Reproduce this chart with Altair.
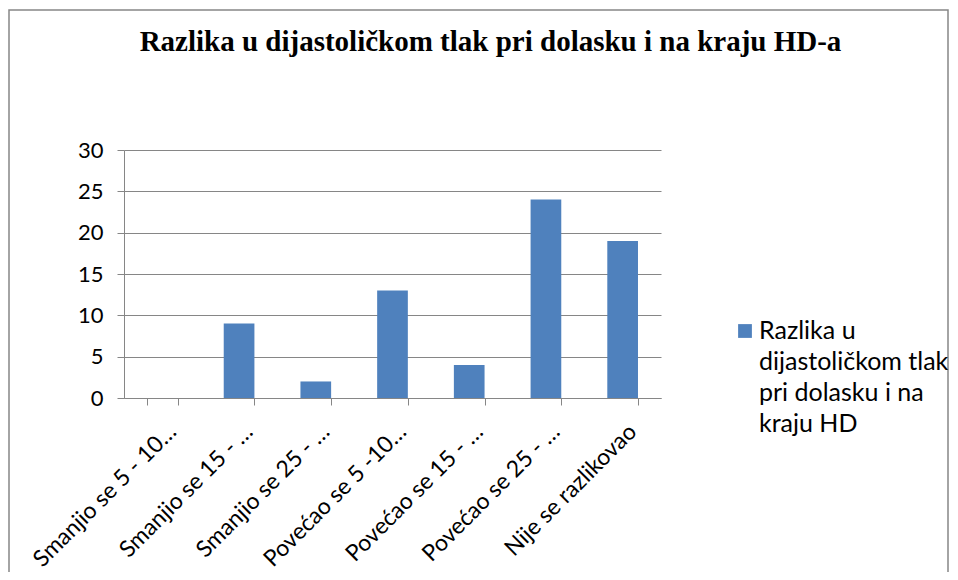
import altair as alt
import pandas as pd

categories = [
    "Smanjio se 5 - 10…",
    "Smanjio se 15 - …",
    "Smanjio se 25 - …",
    "Povećao se 5 -10…",
    "Povećao se 15 - …",
    "Povećao se 25 - …",
    "Nije se razlikovao",
]
values = [0, 9, 2, 13, 4, 24, 19]
series_name = "Razlika u\ndijastoličkom tlak\npri dolasku i na\nkraju HD"
title_text = "Razlika u dijastoličkom tlak pri dolasku i na kraju HD-a"

df = pd.DataFrame({"cat": categories, "val": values})
legend_df = pd.DataFrame({"series": [series_name]})

W, H = 537, 248
PL, PT, PR, PB = 116, 142, 826 - 537, 174
FONT = "Lato"
GRAY = "#868686"
BLUE = "#4F81BD"

bars = alt.Chart(df).mark_bar(color=BLUE).encode(
    x=alt.X("cat:N", sort=categories, title=None,
            scale=alt.Scale(paddingInner=0.6, paddingOuter=0.3),
            axis=alt.Axis(labelAngle=-45, labelAlign="right", labelBaseline="top",
                          labelFontSize=23, labelFont=FONT, labelColor="#000000",
                          labelLimit=400, tickBand="extent", tickSize=7,
                          tickColor=GRAY, domainColor=GRAY, labelPadding=15,
                          labelOffset=2, labelOverlap=False)),
    y=alt.Y("val:Q", title=None,
            scale=alt.Scale(domain=[0, 30]),
            axis=alt.Axis(values=[0, 5, 10, 15, 20, 25, 30], labelFontSize=22,
                          labelFont=FONT, labelColor="#000000", tickSize=7,
                          tickColor=GRAY, domainColor=GRAY, gridColor=GRAY,
                          gridWidth=1, labelPadding=14)),
)

legend_sym = alt.Chart(legend_df).mark_square(color=BLUE, size=190, opacity=1).encode(
    x=alt.value(621), y=alt.value(181),
)
legend_txt = alt.Chart(legend_df).mark_text(
    align="left", baseline="middle", lineBreak="\n", lineHeight=31,
    fontSize=25, font=FONT, color="#000000",
).encode(
    text="series:N", x=alt.value(635), y=alt.value(181),
)

border = alt.Chart(pd.DataFrame({"a": [0]})).mark_rect(
    fill=None, stroke=GRAY, strokeWidth=1.5
).encode(
    x=alt.value(-115), x2=alt.value(W + PR - 2),
    y=alt.value(-140), y2=alt.value(H + PB + 20),
)

chart = alt.layer(border, bars, legend_sym, legend_txt).properties(
    width=W, height=H,
    autosize=alt.AutoSizeParams(type="none"),
    padding={"left": PL, "top": PT, "right": PR, "bottom": PB},
    title=alt.TitleParams(title_text, font="Liberation Serif", fontSize=29,
                          fontWeight="bold", color="#000000", anchor="middle",
                          dx=98, offset=-48),
).configure_view(stroke=None)

chart.save("out.html", embed_options={"renderer": "svg", "actions": False})
